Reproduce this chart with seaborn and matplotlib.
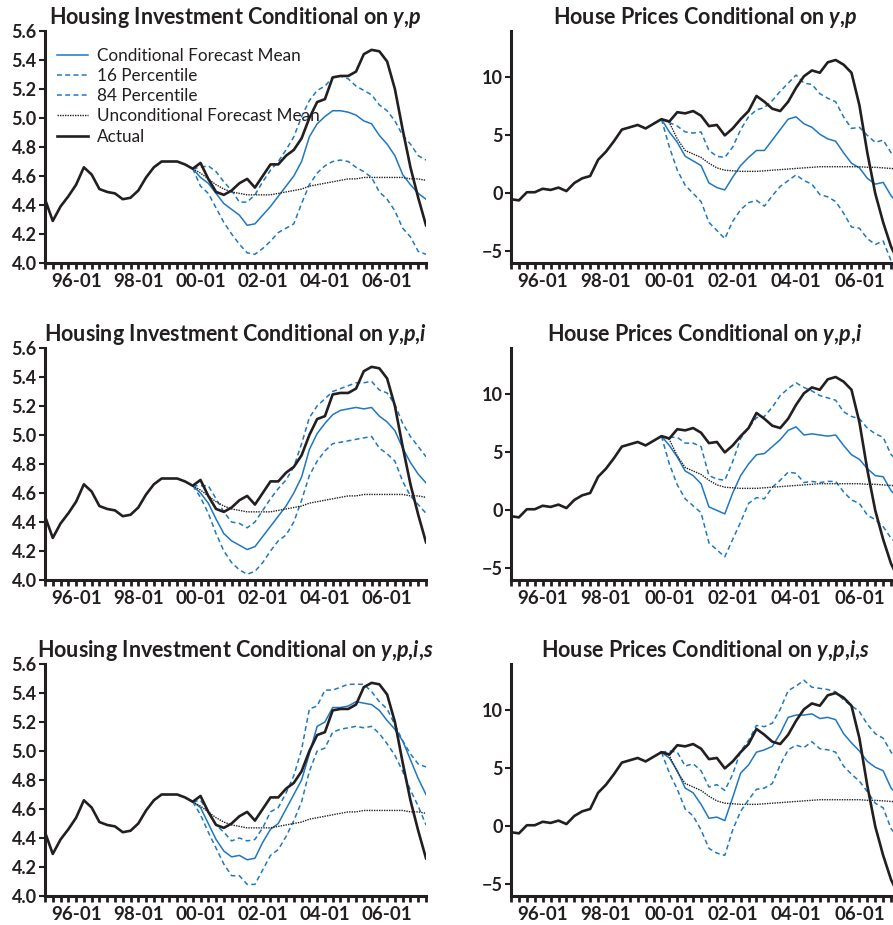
import numpy as np
import pandas as pd
import seaborn as sns
import matplotlib.pyplot as plt
from matplotlib.ticker import MultipleLocator, FixedLocator, FormatStrFormatter

# quarters 1995Q1 .. 2007Q2 -> index 0..49, forecasts start 1999Q4 (index 19)
n_quarters = 50
fc_start = 19
xtick_pos = [4, 12, 20, 28, 36, 44]
xtick_labels = ["96-01", "98-01", "00-01", "02-01", "04-01", "06-01"]

hi_actual = [4.44, 4.29, 4.39, 4.46, 4.54, 4.66, 4.61, 4.51, 4.49, 4.48,
             4.44, 4.45, 4.50, 4.59, 4.66, 4.70, 4.70, 4.70, 4.68, 4.65,
             4.69, 4.58, 4.49, 4.47, 4.50, 4.55, 4.58, 4.52, 4.60, 4.68,
             4.68, 4.74, 4.78, 4.86, 5.00, 5.11, 5.13, 5.28, 5.29, 5.29,
             5.32, 5.44, 5.47, 5.46, 5.39, 5.20, 4.92, 4.66, 4.45, 4.26]
hp_actual = [-0.5, -0.6, 0.1, 0.1, 0.4, 0.3, 0.5, 0.2, 0.9, 1.3,
             1.5, 2.9, 3.6, 4.5, 5.5, 5.7, 5.9, 5.6, 6.0, 6.4,
             6.2, 7.0, 6.9, 7.1, 6.7, 5.8, 5.9, 5.0, 5.6, 6.4,
             7.1, 8.4, 7.9, 7.3, 7.1, 7.9, 9.1, 10.1, 10.6, 10.4,
             11.3, 11.5, 11.1, 10.4, 7.6, 3.5, 0.0, -2.5, -4.6, -6.0]

# unconditional forecast means (1999Q4 onwards)
hi_uncond = [4.65, 4.62, 4.58, 4.54, 4.51, 4.49, 4.48, 4.47, 4.47, 4.47,
             4.47, 4.48, 4.49, 4.50, 4.51, 4.53, 4.54, 4.55, 4.56, 4.57,
             4.58, 4.58, 4.59, 4.59, 4.59, 4.59, 4.59, 4.59, 4.58, 4.58, 4.57]
hp_uncond = [6.4, 6.1, 4.7, 3.7, 3.4, 3.1, 2.6, 2.2, 2.0, 1.95,
             1.9, 1.9, 1.9, 1.95, 2.0, 2.05, 2.1, 2.15, 2.2, 2.25,
             2.3, 2.3, 2.3, 2.3, 2.3, 2.3, 2.25, 2.25, 2.2, 2.15, 2.1]

# housing investment, conditional on y,p
hi_mean_yp = [4.65, 4.59, 4.55, 4.48, 4.41, 4.37, 4.33, 4.26, 4.27, 4.33,
              4.39, 4.46, 4.53, 4.60, 4.70, 4.87, 4.96, 5.01, 5.05, 5.05,
              5.04, 5.02, 4.98, 4.96, 4.88, 4.82, 4.74, 4.61, 4.54, 4.48, 4.44]
hi_p16_yp = [4.65, 4.53, 4.48, 4.38, 4.28, 4.20, 4.13, 4.07, 4.06, 4.10,
             4.15, 4.21, 4.24, 4.27, 4.41, 4.54, 4.62, 4.67, 4.70, 4.71,
             4.70, 4.66, 4.63, 4.59, 4.49, 4.44, 4.36, 4.24, 4.18, 4.08, 4.06]
hi_p84_yp = [4.65, 4.66, 4.67, 4.63, 4.56, 4.50, 4.42, 4.42, 4.47, 4.56,
             4.64, 4.70, 4.78, 4.87, 5.01, 5.12, 5.19, 5.22, 5.28, 5.29,
             5.27, 5.22, 5.19, 5.16, 5.09, 5.05, 4.98, 4.88, 4.82, 4.74, 4.71]

# housing investment, conditional on y,p,i
hi_mean_ypi = [4.65, 4.60, 4.53, 4.42, 4.32, 4.27, 4.24, 4.21, 4.23, 4.30,
               4.37, 4.44, 4.51, 4.60, 4.71, 4.90, 5.01, 5.08, 5.14, 5.17,
               5.18, 5.19, 5.18, 5.19, 5.13, 5.09, 5.03, 4.91, 4.81, 4.73, 4.67]
hi_p16_ypi = [4.65, 4.57, 4.46, 4.32, 4.20, 4.12, 4.07, 4.04, 4.06, 4.12,
              4.20, 4.27, 4.31, 4.40, 4.55, 4.72, 4.82, 4.89, 4.94, 4.95,
              4.96, 4.97, 4.98, 4.99, 4.91, 4.87, 4.82, 4.68, 4.58, 4.52, 4.46]
hi_p84_ypi = [4.65, 4.65, 4.65, 4.56, 4.47, 4.40, 4.39, 4.36, 4.40, 4.48,
              4.56, 4.63, 4.69, 4.78, 4.94, 5.12, 5.20, 5.25, 5.30, 5.32,
              5.34, 5.36, 5.36, 5.37, 5.31, 5.29, 5.21, 5.08, 4.99, 4.92, 4.85]

# housing investment, conditional on y,p,i,s
hi_mean_ypis = [4.65, 4.61, 4.50, 4.39, 4.31, 4.27, 4.28, 4.25, 4.26, 4.37,
                4.46, 4.50, 4.60, 4.70, 4.80, 4.98, 5.17, 5.20, 5.30, 5.30,
                5.31, 5.34, 5.33, 5.32, 5.28, 5.21, 5.15, 5.07, 4.94, 4.81, 4.70]
hi_p16_ypis = [4.65, 4.56, 4.44, 4.33, 4.22, 4.14, 4.14, 4.08, 4.08, 4.18,
               4.28, 4.32, 4.41, 4.52, 4.65, 4.86, 5.00, 5.02, 5.13, 5.15,
               5.16, 5.17, 5.16, 5.17, 5.12, 5.05, 4.97, 4.86, 4.73, 4.62, 4.49]
hi_p84_ypis = [4.65, 4.66, 4.58, 4.49, 4.44, 4.38, 4.40, 4.38, 4.39, 4.47,
               4.58, 4.61, 4.71, 4.83, 5.01, 5.29, 5.31, 5.42, 5.42, 5.44,
               5.46, 5.46, 5.46, 5.41, 5.34, 5.29, 5.18, 5.07, 4.98, 4.91, 4.89]

# house prices, conditional on y,p
hp_mean_yp = [6.4, 5.3, 4.4, 3.2, 2.8, 2.4, 0.9, 0.5, 0.3, 1.4,
              2.4, 3.1, 3.7, 3.7, 4.6, 5.5, 6.4, 6.6, 6.0, 5.7,
              5.1, 4.7, 4.5, 3.5, 2.6, 2.2, 1.3, 0.8, 0.95, -0.2, -1.0]
hp_p16_yp = [6.4, 4.0, 2.0, 0.7, 0.0, -0.7, -2.5, -3.2, -3.9, -2.4,
             -1.4, -0.8, -0.6, -1.1, -0.2, 0.6, 1.1, 1.6, 1.1, 0.8,
             -0.1, -0.3, -0.7, -1.7, -2.9, -3.0, -3.9, -4.4, -4.1, -5.8, -6.5]
hp_p84_yp = [6.4, 6.1, 5.8, 5.3, 5.2, 5.3, 3.7, 3.2, 3.1, 4.0,
             5.5, 6.6, 7.2, 7.4, 8.0, 8.8, 9.5, 10.2, 9.5, 9.4,
             8.6, 8.2, 7.9, 6.6, 5.6, 5.7, 5.0, 4.4, 4.6, 3.5, 3.0]

# house prices, conditional on y,p,i
hp_mean_ypi = [6.4, 5.6, 4.6, 3.4, 3.0, 2.3, 0.3, 0.0, -0.3, 1.5,
               3.0, 4.0, 4.8, 4.9, 5.5, 6.1, 6.9, 7.2, 6.5, 6.6,
               6.5, 6.4, 6.5, 5.6, 4.8, 4.4, 3.6, 3.0, 2.9, 1.7, 1.0]
hp_p16_ypi = [6.4, 4.0, 2.2, 1.0, 0.4, -0.2, -2.8, -3.4, -4.0, -2.5,
              -1.0, 0.6, 1.1, 1.0, 2.0, 2.6, 3.3, 3.2, 2.4, 2.5,
              2.4, 2.5, 2.5, 1.6, 0.9, 0.6, -0.4, -0.8, -1.4, -2.4, -3.0]
hp_p84_ypi = [6.4, 6.3, 6.3, 5.8, 5.8, 5.5, 3.0, 2.7, 2.6, 4.2,
              6.2, 7.1, 8.0, 8.1, 8.9, 9.9, 10.5, 11.0, 10.6, 10.3,
              9.9, 9.7, 9.5, 8.5, 8.1, 7.9, 7.1, 6.6, 6.3, 4.8, 4.2]

# house prices, conditional on y,p,i,s
hp_mean_ypis = [6.4, 5.9, 4.8, 3.3, 2.9, 1.9, 0.7, 0.8, 0.5, 2.5,
                4.6, 5.3, 6.4, 6.6, 6.9, 8.0, 9.4, 9.6, 9.6, 9.7,
                9.3, 9.4, 9.2, 8.0, 7.2, 6.5, 5.6, 5.1, 4.8, 3.3, 2.6]
hp_p16_ypis = [6.4, 4.6, 3.2, 1.5, 0.9, -0.3, -1.9, -2.3, -2.5, -0.3,
               1.3, 2.3, 3.2, 3.3, 3.7, 5.3, 6.6, 7.0, 6.8, 7.3,
               6.7, 6.6, 6.4, 5.2, 4.5, 3.9, 3.0, 2.0, 1.6, -0.2, -1.0]
hp_p84_ypis = [6.4, 6.5, 6.4, 5.2, 5.4, 4.8, 3.4, 3.6, 3.1, 4.5,
               6.5, 7.4, 8.7, 8.6, 8.9, 10.1, 11.7, 12.1, 12.6, 12.0,
               11.9, 11.8, 11.6, 10.9, 10.4, 9.9, 8.8, 8.0, 7.6, 6.4, 5.5]

titles_hi = [r"Housing Investment Conditional on $\mathit{y{,}p}$",
             r"Housing Investment Conditional on $\mathit{y{,}p{,}i}$",
             r"Housing Investment Conditional on $\mathit{y{,}p{,}i{,}s}$"]
titles_hp = [r"House Prices Conditional on $\mathit{y{,}p}$",
             r"House Prices Conditional on $\mathit{y{,}p{,}i}$",
             r"House Prices Conditional on $\mathit{y{,}p{,}i{,}s}$"]

blue = "#1f78c0"
ink = "#231f20"

plt.rcParams.update({
    "font.family": ["Lato", "DejaVu Sans"],
    "mathtext.fontset": "custom",
    "mathtext.rm": "Lato:bold",
    "mathtext.it": "Lato:italic:bold",
    "axes.linewidth": 2.2,
    "text.color": ink,
    "axes.edgecolor": ink,
    "xtick.color": ink,
    "ytick.color": ink,
})

quarters = np.arange(n_quarters)
fc_quarters = np.arange(fc_start, n_quarters)


def draw_panel(ax, actual, mean, p16, p84, uncond, ylim, yticks, ylabels, title, legend=False):
    fc = pd.DataFrame({"q": fc_quarters, "mean": mean, "p16": p16, "p84": p84, "unc": uncond})
    act = pd.DataFrame({"q": quarters, "actual": actual})
    sns.lineplot(data=fc, x="q", y="mean", ax=ax, color=blue, lw=1.1,
                 label="Conditional Forecast Mean")
    sns.lineplot(data=fc, x="q", y="p16", ax=ax, color=blue, lw=1.1,
                 linestyle=(0, (3.2, 2.2)), label="16 Percentile")
    sns.lineplot(data=fc, x="q", y="p84", ax=ax, color=blue, lw=1.1,
                 linestyle=(0, (3.2, 2.2)), label="84 Percentile")
    sns.lineplot(data=fc, x="q", y="unc", ax=ax, color=ink, lw=1.0,
                 linestyle=(0, (1, 0.8)), label="Unconditional Forecast Mean")
    sns.lineplot(data=act, x="q", y="actual", ax=ax, color=ink, lw=1.9,
                 label="Actual")

    ax.set_xlim(0, n_quarters - 1)
    ax.set_ylim(*ylim)
    sns.despine(ax=ax)
    ax.set_xlabel("")
    ax.set_ylabel("")
    ax.xaxis.set_major_locator(FixedLocator(xtick_pos))
    ax.set_xticklabels(xtick_labels, fontsize=13.5, fontweight="bold")
    ax.xaxis.set_minor_locator(MultipleLocator(1))
    ax.yaxis.set_major_locator(FixedLocator(yticks))
    ax.set_yticklabels(ylabels, fontsize=13, fontweight="bold")
    ax.tick_params(axis="x", which="major", length=4.5, width=2, pad=2.5)
    ax.tick_params(axis="x", which="minor", length=4, width=2)
    ax.tick_params(axis="y", length=4, width=1.5, pad=2)
    ax.set_title(title, fontsize=15.5, fontweight="bold", pad=5)
    if legend:
        ax.legend(loc="upper left", bbox_to_anchor=(0.0, 0.98), frameon=False,
                  fontsize=12.3, handlelength=1.8, handletextpad=0.55,
                  labelspacing=0.25, borderaxespad=0.3)
    else:
        ax.get_legend().remove()


fig = plt.figure(figsize=(8.93, 9.25), dpi=100)

hi_sets = [(hi_mean_yp, hi_p16_yp, hi_p84_yp),
           (hi_mean_ypi, hi_p16_ypi, hi_p84_ypi),
           (hi_mean_ypis, hi_p16_ypis, hi_p84_ypis)]
hp_sets = [(hp_mean_yp, hp_p16_yp, hp_p84_yp),
           (hp_mean_ypi, hp_p16_ypi, hp_p84_ypi),
           (hp_mean_ypis, hp_p16_ypis, hp_p84_ypis)]
row_bottoms = [263, 580, 896]

hi_yticks = [4.0, 4.2, 4.4, 4.6, 4.8, 5.0, 5.2, 5.4, 5.6]
hp_yticks = [-5, 0, 5, 10]

for r in range(3):
    bottom = 1 - row_bottoms[r] / 925
    ax_l = fig.add_axes([45 / 893, bottom, 381 / 893, 232 / 925])
    draw_panel(ax_l, hi_actual, *hi_sets[r], hi_uncond, (4.0, 5.6),
               hi_yticks, [f"{v:.1f}" for v in hi_yticks],
               titles_hi[r], legend=(r == 0))
    ax_r = fig.add_axes([511 / 893, bottom, 388 / 893, 232 / 925])
    draw_panel(ax_r, hp_actual, *hp_sets[r], hp_uncond, (-6, 14),
               hp_yticks, [f"{v:d}".replace("-", "\u2212") for v in hp_yticks],
               titles_hp[r])

fig.savefig("out.png", dpi=100)
